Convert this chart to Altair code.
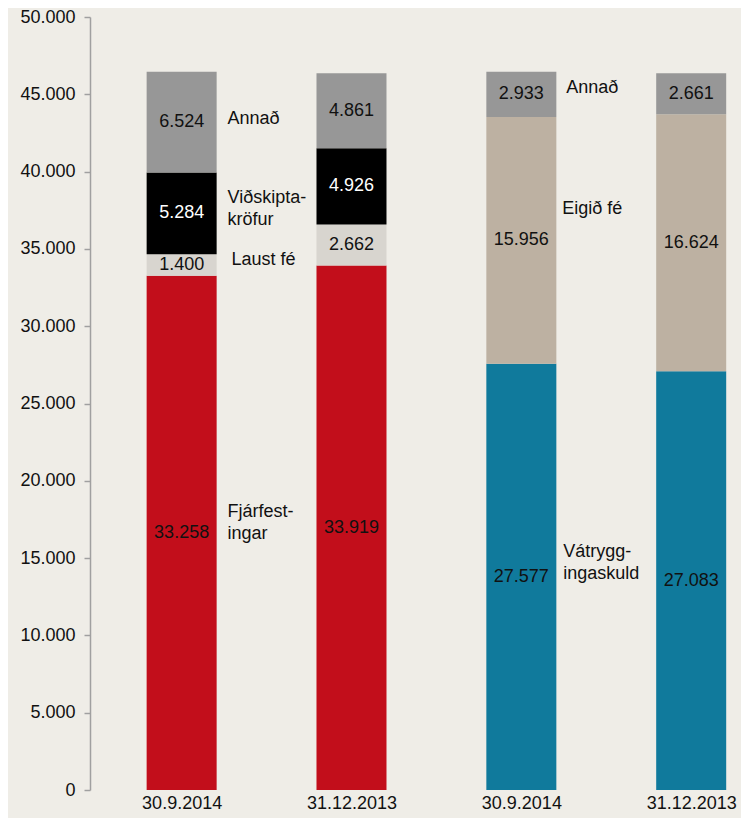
import json
import altair as alt
import pandas as pd

# ---- data ----
dates = ["30.9.2014", "31.12.2013", "30.9.2014", "31.12.2013"]
bar_index = [0, 1, 2, 3]

asset_segments = ["Fjárfestingar", "Laust fé", "Viðskiptakröfur", "Annað"]
assets_2014 = [33258, 1400, 5284, 6524]
assets_2013 = [33919, 2662, 4926, 4861]

liab_segments = ["Vátryggingaskuld", "Eigið fé", "Annað"]
liab_2014 = [27577, 15956, 2933]
liab_2013 = [27083, 16624, 2661]

seg_domain = ["Fjárfestingar", "Laust fé", "Viðskiptakröfur", "Annað",
              "Vátryggingaskuld", "Eigið fé"]
seg_range = ["#C20E1B", "#D8D5CF", "#000000", "#979797", "#107A9C", "#BDB1A2"]

ann_text = ["Annað", "Viðskipta-\nkröfur", "Laust fé", "Fjárfest-\ningar",
            "Annað", "Eigið fé", "Vátrygg-\ningaskuld"]
ann_x = [0.27, 0.27, 0.293, 0.27, 2.264, 2.241, 2.247]
ann_y = [43400, 38300, 34300, 18000, 45400, 37600, 15400]

y_ticks = list(range(0, 50001, 5000))

# ---- build table ----
rows = []
groups = [
    (0, asset_segments, assets_2014),
    (1, asset_segments, assets_2013),
    (2, liab_segments, liab_2014),
    (3, liab_segments, liab_2013),
]
for b, segs, vals in groups:
    base = 0
    for s, v in zip(segs, vals):
        rows.append({
            "bar": b,
            "seg": s,
            "y0": base,
            "y1": base + v,
            "mid": base + v / 2,
            "label": f"{v:,}".replace(",", "."),
            "light": s == "Viðskiptakröfur",
        })
        base += v
df = pd.DataFrame(rows)
ann = pd.DataFrame({"x": ann_x, "y": ann_y, "t": ann_text})

FONT = "Liberation Sans"
labels_js = json.dumps(dates)

xscale = alt.Scale(domain=[-0.5101, 3.2638], nice=False, zero=False)
yscale = alt.Scale(domain=[0, 50000], nice=False)

x_axis = alt.Axis(
    values=bar_index,
    labelExpr=f"{labels_js}[datum.value]",
    domain=False, ticks=False, grid=False, title=None,
    labelFontSize=18, labelFont=FONT, labelColor="#111111",
    labelPadding=4, labelFlush=False, labelOverlap=False,
)
y_axis = alt.Axis(
    values=y_ticks,
    labelExpr="datum.value == 0 ? '0' : floor(datum.value / 1000) + '.000'",
    domainColor="#A0A0A0", domainWidth=1.5,
    tickColor="#A0A0A0", tickWidth=1.5, tickSize=6,
    grid=False, title=None,
    labelFontSize=18, labelFont=FONT, labelColor="#111111", labelPadding=9,
)

bars = alt.Chart(df).mark_bar(size=70).encode(
    x=alt.X("bar:Q", scale=xscale, axis=x_axis),
    y=alt.Y("y0:Q", scale=yscale, axis=y_axis),
    y2="y1:Q",
    color=alt.Color("seg:N", scale=alt.Scale(domain=seg_domain, range=seg_range),
                    legend=None),
)

values = alt.Chart(df).mark_text(fontSize=18, font=FONT, baseline="middle",
                                 align="center").encode(
    x=alt.X("bar:Q", scale=xscale),
    y=alt.Y("mid:Q", scale=yscale),
    text="label:N",
    color=alt.condition("datum.light", alt.value("#FFFFFF"), alt.value("#111111")),
)

notes = alt.Chart(ann).mark_text(fontSize=18, font=FONT, baseline="middle",
                                 align="left", lineBreak="\n", lineHeight=22,
                                 color="#111111").encode(
    x=alt.X("x:Q", scale=xscale),
    y=alt.Y("y:Q", scale=yscale),
    text="t:N",
)

chart = alt.layer(bars, values, notes).properties(
    width=651, height=773,
    background="#EFEDE7",
    autosize=alt.AutoSizeParams(type="none"),
    padding={"left": 82, "top": 9, "right": 0, "bottom": 28},
).configure_view(stroke=None)

chart.save("out.html", embed_options={"renderer": "svg", "actions": False})
